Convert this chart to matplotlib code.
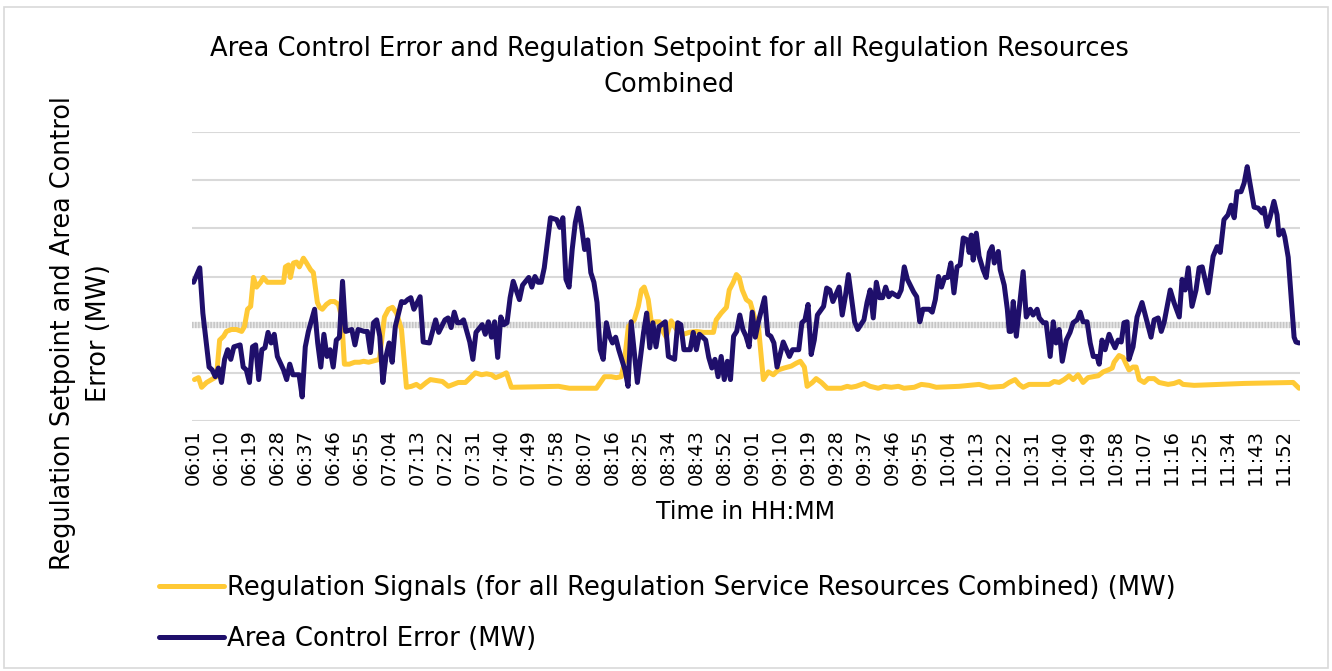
import matplotlib
matplotlib.use("Agg")
import matplotlib.pyplot as plt
from matplotlib.patches import Rectangle

plt.rcParams['font.family'] = ['DejaVu Sans']
plt.rcParams['lines.scale_dashes'] = False

# ---------------- data (minutes after 06:01, MW) ----------------
tick_labels = ["06:01", "06:10", "06:19", "06:28", "06:37", "06:46", "06:55", "07:04",
               "07:13", "07:22", "07:31", "07:40", "07:49", "07:58", "08:07", "08:16",
               "08:25", "08:34", "08:43", "08:52", "09:01", "09:10", "09:19", "09:28",
               "09:37", "09:46", "09:55", "10:04", "10:13", "10:22", "10:31", "10:40",
               "10:49", "10:58", "11:07", "11:16", "11:25", "11:34", "11:43", "11:52"]

ace_minutes = [0, 2, 3, 5, 6, 7, 8, 9, 10, 11,
               12, 13, 15, 16, 17, 18, 19, 20, 21, 22,
               23, 24, 25, 26, 27, 29, 30, 31, 32, 34,
               35, 36, 37, 39, 40, 41, 42, 43, 44, 45,
               46, 47, 48, 49, 51, 52, 53, 55, 56, 57,
               58, 59, 60, 61, 62, 63, 64, 65, 67, 68,
               69, 70, 71, 73, 74, 76, 78, 79, 81, 82,
               83, 84, 85, 86, 87, 89, 90, 91, 93, 94,
               95, 96, 97, 98, 99, 100, 101, 102, 103, 105,
               106, 108, 109, 110, 111, 112, 113, 114, 115, 117,
               118, 119, 120, 121, 122, 123, 124, 125, 126, 127,
               128, 129, 130, 131, 132, 133, 134, 135, 136, 137,
               139, 140, 141, 142, 143, 145, 146, 147, 148, 149,
               150, 152, 153, 155, 156, 157, 158, 160, 161, 162,
               163, 165, 166, 167, 168, 169, 170, 171, 172, 173,
               174, 175, 176, 177, 178, 179, 180, 181, 182, 184,
               185, 186, 187, 188, 190, 192, 193, 195, 196, 197,
               198, 199, 200, 201, 203, 204, 205, 206, 208, 209,
               210, 211, 213, 214, 216, 217, 218, 219, 220, 221,
               222, 223, 224, 225, 227, 228, 229, 230, 232, 233,
               234, 235, 237, 238, 239, 240, 241, 242, 243, 244,
               245, 246, 247, 248.0, 249.3, 249.9, 250.6, 251.2, 252.2, 253.1,
               254.4, 255.4, 256.4, 257.3, 258.0, 259.3, 259.9, 261.2, 262.2, 262.8,
               263.4, 264.1, 265.1, 266.0, 267.3, 268.3, 269.6, 270.5, 271.8, 272.5,
               273.8, 274.7, 276.0, 277.0, 277.9, 278.9, 279.9, 281.2, 282.4, 283.4,
               284.7, 285.7, 286.6, 287.9, 288.9, 289.9, 291.1, 291.8, 292.7, 293.7,
               295.0, 296.0, 296.9, 297.9, 298.9, 299.8, 300.8, 301.4, 302.7, 304.0,
               305.6, 306.9, 308.5, 309.5, 310.8, 311.8, 312.7, 314.7, 315.9, 317.6,
               318.5, 319.5, 320.5, 321.7, 323.0, 324.0, 325.0, 326.9, 328.5, 329.8,
               330.8, 332.0, 333.3, 334.3, 335.3, 336.2, 337.5, 338.5, 339.5, 340.1,
               341.7, 343.0, 344.3, 344.9, 345.9, 346.8, 348.1, 349.1, 349.7, 351.0,
               351.6, 352.7, 354.6, 355.2, 356.2]

ace_mw = [44, 59, 12, -44, -47, -54, -45, -60, -36, -26,
          -36, -23, -21, -44, -47, -60, -23, -21, -57, -26,
          -24, -8, -19, -10, -33, -47, -57, -41, -52, -52,
          -75, -23, -7, 16, -19, -44, -10, -33, -26, -44,
          -16, -13, 45, -7, -5, -21, -5, -7, -7, -29,
          2, 5, -12, -60, -33, -19, -39, -2, 24, 23,
          26, 28, 16, 29, -18, -19, 5, -8, 5, 7,
          -3, 13, 2, 2, 5, -18, -36, -8, 0, -10,
          3, -13, 3, -34, 8, 0, 2, 28, 45, 26,
          41, 49, 39, 50, 44, 44, 59, 85, 111, 109,
          101, 111, 47, 39, 78, 106, 121, 102, 78, 88,
          54, 44, 23, -26, -36, 2, -12, -19, -13, -26,
          -47, -64, 3, -29, -60, -8, 12, -24, 2, -23,
          -2, 3, -33, -36, 2, 0, -26, -26, -8, -26,
          -10, -16, -34, -45, -36, -54, -33, -57, -38, -57,
          -12, -7, 10, -5, -12, -23, 13, -13, 3, 28,
          -10, -12, -19, -44, -18, -33, -26, -26, 2, 5,
          21, -31, -16, 10, 19, 38, 36, 24, 39, 10,
          29, 52, 3, -5, 5, 23, 36, 7, 44, 28,
          28, 39, 29, 33, 29, 36, 60, 47, 34, 29,
          3, 16, 16, 13, 26, 50, 39, 49, 49, 64,
          33, 60, 62, 90, 88, 75, 93, 67, 95, 71,
          57, 49, 75, 81, 64, 76, 57, 41, 16, -7,
          -7, 24, -12, 16, 55, 8, 16, 10, 16, 7,
          2, 2, -33, 3, -19, -5, -38, -16, -8, 2,
          5, 13, 3, 3, -19, -33, -33, -41, -16, -26,
          -10, -18, -24, -16, -18, 2, 3, -36, -23, 8,
          23, 7, -13, 5, 7, -7, 2, 36, 23, 8,
          47, 36, 59, 19, 36, 59, 60, 33, 71, 81,
          75, 109, 114, 124, 111, 138, 138, 147, 164, 152,
          122, 121, 116, 121, 102, 111, 128, 114, 93, 98,
          91, 70, -13, -18, -19]

reg_minutes = [0.3, 1.6, 2.6, 4.2, 5.8, 7.4, 8.4, 9.7, 10.6, 12.2,
               13.8, 15.5, 16.4, 17.4, 18.4, 19.3, 20.3, 21.6, 22.5, 23.8,
               29.0, 29.6, 30.6, 31.2, 32.2, 33.2, 34.1, 35.4, 36.4, 37.7,
               38.6, 39.9, 40.6, 41.5, 42.8, 44.1, 45.4, 46.7, 47.7, 48.6,
               50.2, 51.9, 53.5, 54.8, 56.4, 59.9, 61.5, 62.8, 64.1, 65.4,
               67.0, 68.6, 70.2, 71.8, 73.1, 75.0, 76.3, 78.3, 80.2, 82.1,
               83.7, 85.3, 87.6, 89.5, 90.8, 92.8, 94.4, 96.0, 97.3, 98.9,
               100.8, 102.4, 117.6, 121.1, 129.8, 132.4, 134.6, 136.2, 137.8, 138.8,
               140.1, 142.0, 143.3, 144.3, 145.2, 146.5, 147.5, 148.8, 150.1, 151.4,
               152.3, 153.9, 155.6, 157.8, 159.7, 162.0, 164.3, 167.5, 168.4, 170.0,
               171.7, 172.6, 173.9, 174.9, 175.8, 176.8, 178.1, 179.4, 180.7, 182.0,
               183.6, 185.2, 186.8, 188.4, 190.3, 192.6, 194.2, 195.5, 196.8, 197.7,
               199.4, 200.6, 202.3, 204.2, 208.7, 210.6, 211.9, 213.5, 216.1, 218.0,
               220.6, 222.5, 224.8, 227.1, 228.9, 232.2, 234.5, 237.0, 239.3, 246.7,
               253.1, 256.4, 260.9, 262.8, 264.7, 266.0, 267.3, 269.2, 275.7, 277.3,
               278.9, 280.5, 282.1, 283.4, 285.0, 286.6, 288.2, 289.9, 291.5, 293.1,
               294.7, 296.0, 296.6, 298.2, 299.5, 300.5, 301.4, 302.7, 303.7, 304.7,
               306.3, 307.6, 309.5, 311.1, 314.0, 315.9, 317.6, 318.8, 322.4, 338.5,
               354.3, 356.2]

reg_mw = [-57, -55, -65, -60, -57, -54, -16, -12, -7, -5,
          -5, -7, -2, 16, 19, 49, 39, 44, 49, 44,
          44, 60, 62, 49, 64, 65, 60, 69, 64, 57,
          54, 23, 18, 16, 21, 24, 24, 21, 8, -41,
          -41, -39, -39, -38, -39, -36, 8, 16, 18, 12,
          -5, -65, -64, -62, -65, -60, -57, -58, -59, -64,
          -62, -60, -60, -54, -50, -52, -51, -52, -55, -53,
          -50, -65, -64, -66, -66, -54, -54, -55, -54, -39,
          -2, 5, 19, 36, 39, 26, 2, 3, 3, -8,
          -13, 4, -5, -10, -8, -7, -8, -8, 5, 12,
          18, 36, 44, 52, 49, 36, 26, 23, 8, -2,
          -57, -49, -52, -47, -45, -43, -40, -38, -44, -64,
          -60, -56, -60, -66, -66, -64, -65, -64, -61, -64,
          -66, -64, -65, -64, -66, -65, -62, -63, -65, -64,
          -62, -65, -64, -60, -57, -62, -65, -62, -62, -59,
          -60, -57, -53, -57, -52, -60, -55, -54, -53, -49,
          -47, -45, -39, -32, -34, -41, -47, -44, -44, -57,
          -60, -56, -56, -60, -62, -61, -59, -62, -63, -61,
          -60, -66]

grid_levels = [-100, -50, 50, 100, 150, 200]

title = "Area Control Error and Regulation Setpoint for all Regulation Resources\nCombined"
reg_label = "Regulation Signals (for all Regulation Service Resources Combined) (MW)"
ace_label = "Area Control Error (MW)"

# ---------------- figure ----------------
W, H = 1332, 671
fig = plt.figure(figsize=(W / 100, H / 100), dpi=100)
fig.patch.set_facecolor("white")
fig.patches.append(Rectangle((4 / W, 3 / H), 1 - 8 / W, 1 - 10 / H, transform=fig.transFigure,
                             fill=False, edgecolor="#d9d9d9", linewidth=1.2))

ax = fig.add_axes([192 / W, 1 - 421 / H, (1300 - 192) / W, (421 - 132) / H])
ax.set_xlim(-0.5, 356.5)
ax.set_ylim(-100, 200)
for s in ax.spines.values():
    s.set_visible(False)

for g in grid_levels:
    ax.axhline(g, color="#d9d9d9", linewidth=1.5, zorder=1)
ax.axhline(0, color="#e8e8e8", linewidth=4.5, zorder=1)
ax.axhline(0, color="#c6c6c6", linewidth=4.5, linestyle=(0, (1.1, 1.1)), zorder=1)

line_reg, = ax.plot(reg_minutes, reg_mw, color="#ffc935", linewidth=3.6,
                    solid_joinstyle="round", solid_capstyle="round", zorder=3, label=reg_label)
line_ace, = ax.plot(ace_minutes, ace_mw, color="#1f0f6b", linewidth=3.6,
                    solid_joinstyle="round", solid_capstyle="round", zorder=4, label=ace_label)

ax.set_yticks([])
ax.set_xticks(range(0, 9 * len(tick_labels), 9))
ax.set_xticklabels(tick_labels, rotation=90, fontsize=14, color="black")
ax.tick_params(axis="x", length=0, pad=6)

fig.text(746 / W, 1 - 512 / H, "Time in HH:MM", ha="center", va="center", fontsize=17)
fig.text(81 / W, 1 - 333 / H, "Regulation Setpoint and Area Control\nError (MW)",
         rotation=90, ha="center", va="center", multialignment="center",
         fontsize=18.4, linespacing=1.45)
fig.text(669 / W, 1 - 67 / H, title, ha="center", va="center", multialignment="center",
         fontsize=18.5, linespacing=1.5)

fig.legend(handles=[line_reg, line_ace], loc="upper left",
           bbox_to_anchor=(159 / W, 1 - 575 / H), frameon=False, fontsize=18.6,
           handlelength=2.5, handletextpad=0.15, borderaxespad=0, borderpad=0,
           labelspacing=0.95)

fig.savefig("out.png", dpi=100, facecolor="white")
